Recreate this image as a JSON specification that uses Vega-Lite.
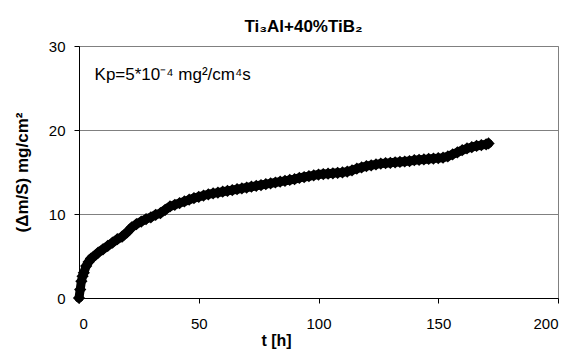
{
  "$schema": "https://vega.github.io/schema/vega-lite/v6.json",
  "autosize": "none",
  "width": 479,
  "height": 252,
  "padding": {"left": 79, "top": 46, "right": 19, "bottom": 51},
  "background": "white",
  "config": {
    "font": "Liberation Sans",
    "view": {"stroke": "#808080", "strokeWidth": 1}
  },
  "title": {
    "text": "Ti₃Al+40%TiB₂",
    "fontSize": 17,
    "fontWeight": "bold",
    "font": "Liberation Sans",
    "color": "black",
    "anchor": "middle",
    "dx": -15,
    "offset": 3
  },
  "data": {
    "values": [
      {"t": 0, "w": 0}, {"t": 0.5, "w": 1.0}, {"t": 1, "w": 2.0}, {"t": 1.5, "w": 2.6},
      {"t": 2, "w": 3.0}, {"t": 3, "w": 3.8}, {"t": 4, "w": 4.3}, {"t": 5, "w": 4.7},
      {"t": 6, "w": 4.9}, {"t": 8, "w": 5.4}, {"t": 10, "w": 5.8}, {"t": 12, "w": 6.2},
      {"t": 14, "w": 6.6}, {"t": 16, "w": 7.0}, {"t": 18, "w": 7.3}, {"t": 20, "w": 7.8},
      {"t": 22, "w": 8.4}, {"t": 24, "w": 8.8}, {"t": 26, "w": 9.1}, {"t": 28, "w": 9.4},
      {"t": 30, "w": 9.6}, {"t": 32, "w": 9.9}, {"t": 34, "w": 10.1}, {"t": 36, "w": 10.5},
      {"t": 38, "w": 10.9}, {"t": 40, "w": 11.1}, {"t": 42, "w": 11.3}, {"t": 44, "w": 11.5},
      {"t": 46, "w": 11.7}, {"t": 48, "w": 11.9}, {"t": 50, "w": 12.05}, {"t": 52, "w": 12.2},
      {"t": 54, "w": 12.35}, {"t": 56, "w": 12.45}, {"t": 58, "w": 12.55}, {"t": 60, "w": 12.65},
      {"t": 62, "w": 12.75}, {"t": 64, "w": 12.85}, {"t": 66, "w": 12.95}, {"t": 68, "w": 13.05},
      {"t": 70, "w": 13.15}, {"t": 72, "w": 13.25}, {"t": 74, "w": 13.35}, {"t": 76, "w": 13.45},
      {"t": 78, "w": 13.55}, {"t": 80, "w": 13.65}, {"t": 82, "w": 13.75}, {"t": 84, "w": 13.85},
      {"t": 86, "w": 13.95}, {"t": 88, "w": 14.05}, {"t": 90, "w": 14.15}, {"t": 92, "w": 14.3},
      {"t": 94, "w": 14.4}, {"t": 96, "w": 14.5}, {"t": 98, "w": 14.6}, {"t": 100, "w": 14.7},
      {"t": 102, "w": 14.75}, {"t": 104, "w": 14.8}, {"t": 106, "w": 14.85}, {"t": 108, "w": 14.9},
      {"t": 110, "w": 14.95}, {"t": 112, "w": 15.05}, {"t": 114, "w": 15.2}, {"t": 116, "w": 15.4},
      {"t": 118, "w": 15.55}, {"t": 120, "w": 15.7}, {"t": 122, "w": 15.8}, {"t": 124, "w": 15.9},
      {"t": 126, "w": 16.0}, {"t": 128, "w": 16.05}, {"t": 130, "w": 16.1}, {"t": 132, "w": 16.15},
      {"t": 134, "w": 16.2}, {"t": 136, "w": 16.25}, {"t": 138, "w": 16.3}, {"t": 140, "w": 16.4},
      {"t": 142, "w": 16.45}, {"t": 144, "w": 16.5}, {"t": 146, "w": 16.55}, {"t": 148, "w": 16.6},
      {"t": 150, "w": 16.65}, {"t": 152, "w": 16.7}, {"t": 154, "w": 16.85}, {"t": 156, "w": 17.1},
      {"t": 158, "w": 17.35}, {"t": 160, "w": 17.6}, {"t": 162, "w": 17.8}, {"t": 164, "w": 17.95},
      {"t": 166, "w": 18.1}, {"t": 168, "w": 18.2}, {"t": 170, "w": 18.3}, {"t": 171, "w": 18.4}
    ]
  },
  "layer": [
    {
      "mark": {"type": "line", "color": "black", "strokeWidth": 9, "strokeJoin": "round", "strokeCap": "round", "clip": false},
      "encoding": {
        "x": {
          "field": "t", "type": "quantitative",
          "scale": {"domain": [0, 200], "nice": false, "zero": true},
          "axis": {
            "values": [0, 50, 100, 150, 200],
            "title": "t [h]",
            "titleFont": "Liberation Sans", "titleFontSize": 16, "titleFontWeight": "bold", "titleColor": "black",
            "titleX": 197, "titleY": 50, "titleBaseline": "bottom",
            "labelFont": "Liberation Sans", "labelFontSize": 15, "labelColor": "black", "labelPadding": 13,
            "domainColor": "black", "tickColor": "black", "tickSize": 5,
            "grid": false
          }
        },
        "y": {
          "field": "w", "type": "quantitative",
          "scale": {"domain": [0, 30], "nice": false},
          "axis": {
            "values": [0, 10, 20, 30],
            "title": "(Δm/S)  mg/cm²",
            "titleFont": "Liberation Sans", "titleFontSize": 17, "titleFontWeight": "bold", "titleColor": "black",
            "titlePadding": 17,
            "labelFont": "Liberation Sans", "labelFontSize": 15, "labelColor": "black", "labelPadding": 9,
            "domainColor": "black", "tickColor": "black", "tickSize": 5,
            "grid": true, "gridColor": "#808080", "gridWidth": 1
          }
        }
      }
    },
    {
      "mark": {"type": "point", "shape": "diamond", "filled": true, "color": "black", "opacity": 1, "size": 150, "clip": false},
      "encoding": {
        "x": {"field": "t", "type": "quantitative"},
        "y": {"field": "w", "type": "quantitative"}
      }
    },
    {
      "data": {"values": [{"t": 6.5, "w": 26.5, "label": "Kp=5*10⁻⁴ mg²/cm⁴s"}]},
      "mark": {"type": "text", "align": "left", "baseline": "middle", "font": "Liberation Sans", "fontSize": 17, "color": "black"},
      "encoding": {
        "x": {"field": "t", "type": "quantitative"},
        "y": {"field": "w", "type": "quantitative"},
        "text": {"field": "label"}
      }
    }
  ]
}
